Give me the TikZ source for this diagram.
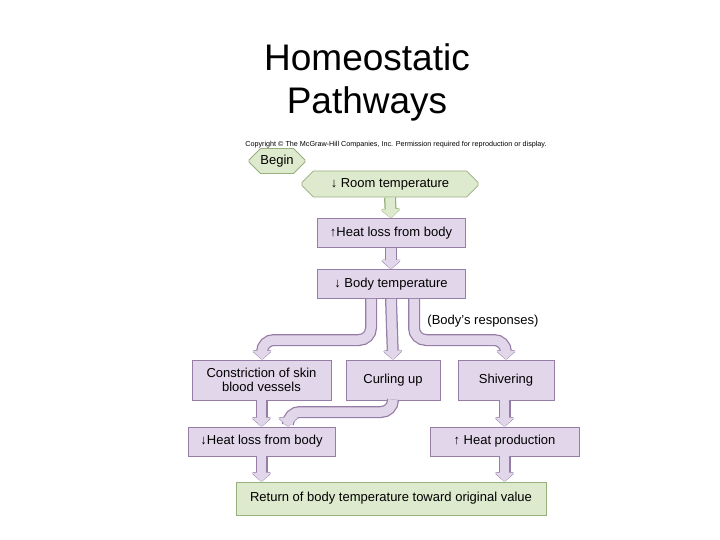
\documentclass[tikz,border=0pt]{standalone}
\usepackage{fontspec}
\setmainfont{Liberation Sans}
\usetikzlibrary{arrows.meta,shapes.misc}
\definecolor{pfill}{RGB}{226,214,234}
\definecolor{pline}{RGB}{150,125,165}
\definecolor{gfill}{RGB}{222,234,205}
\definecolor{gline}{RGB}{150,175,125}
\tikzset{
  pbox/.style={draw=pline,fill=pfill,line width=0.8pt,minimum height=29pt,align=center,font=\fontsize{13}{14}\selectfont,inner sep=2pt},
  gbox/.style={pbox,draw=gline,fill=gfill},
  fatb/.style={line width=12pt,draw=#1,rounded corners=12pt,-{Triangle[length=10pt,width=22pt,round]}},
  fatf/.style={line width=9.5pt,draw=#1,rounded corners=12pt,-{Triangle[length=9pt,width=19pt]}},
}
\newcommand{\fat}[3]{\draw[fatb=#1] #3; \draw[fatf=#2] #3;}
\begin{document}
\begin{tikzpicture}[x=1pt,y=-1pt]
\useasboundingbox (0,0) rectangle (720,540);
\node[font=\fontsize{37}{43}\selectfont,align=center] (title) at (367,82) {Homeostatic\\Pathways};
\node[font=\fontsize{7.2}{8}\selectfont] (copy) at (396,145) {Copyright © The McGraw-Hill Companies, Inc. Permission required for reproduction or display.};
\node[gbox,shape=chamfered rectangle,chamfered rectangle xsep=8pt,minimum width=56pt,minimum height=25pt,inner xsep=0pt] (begin) at (277,161) {Begin};
\node[gbox,shape=chamfered rectangle,chamfered rectangle xsep=12pt,minimum width=176pt,minimum height=26pt] (room) at (390,184) {↓ Room temperature};
\node[pbox,minimum width=148pt] (hl) at (391,233) {↑Heat loss from body};
\node[pbox,minimum width=148pt] (bt) at (391,284) {↓ Body temperature};
\node[font=\fontsize{13}{14}\selectfont] (resp) at (483,321) {(Body's responses)};
\node[pbox,minimum width=139pt,minimum height=40pt,font=\fontsize{13}{14}\selectfont] (con) at (261.5,380) {Constriction of skin\\blood vessels};
\node[pbox,minimum width=94pt,minimum height=40pt] (cur) at (393,380) {Curling up};
\node[pbox,minimum width=96pt,minimum height=40pt] (shi) at (506,380) {Shivering};
\node[pbox,minimum width=147pt] (hl2) at (261.5,441.5) {↓Heat loss from body};
\node[pbox,minimum width=149pt] (hp) at (504.5,441.5) {↑ Heat production};
\node[gbox,minimum width=310pt,minimum height=33pt] (ret) at (391,498.5) {Return of body temperature toward original value};
% arrows
\fat{gline}{gfill}{(room.south) -- (hl.north)}
\fat{pline}{pfill}{(hl.south) -- (bt.north)}
\fat{pline}{pfill}{(bt.south) -- (cur.north)}
\fat{pline}{pfill}{(bt.south -| 371,0) -- (371,340) -- (262,340) -- (con.north -| 262,0)}
\fat{pline}{pfill}{(bt.south -| 414,0) -- (414,340) -- (506,340) -- (shi.north)}
\fat{pline}{pfill}{(con.south) -- (hl2.north -| con.south)}
\fat{pline}{pfill}{(cur.south) -- (393,412) -- (288,412) -- (hl2.north -| 288,0)}
\fat{pline}{pfill}{(shi.south -| hp.north) -- (hp.north)}
\fat{pline}{pfill}{(hl2.south) -- (ret.north -| hl2.south)}
\fat{pline}{pfill}{(hp.south) -- (ret.north -| hp.south)}
\end{tikzpicture}
\end{document}
